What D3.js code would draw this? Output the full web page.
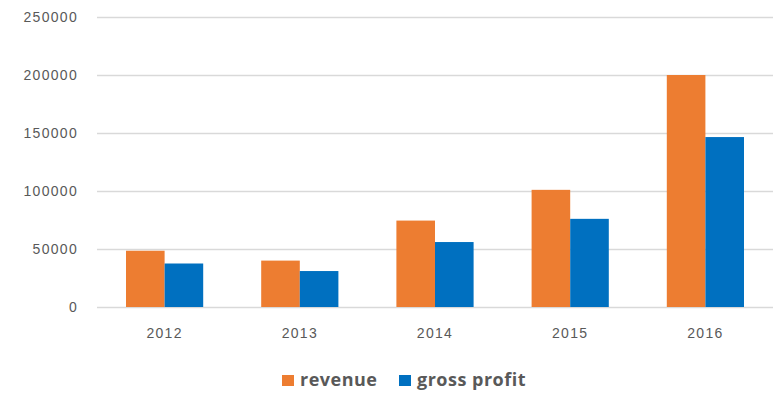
<!DOCTYPE html>
<html>
<head>
<meta charset="utf-8">
<script src="https://cdn.jsdelivr.net/npm/d3@7"></script>
<style>
  body { margin: 0; background: #fff; }
  svg { display: block; font-family: "Open Sans", "DejaVu Sans", sans-serif; }
</style>
</head>
<body>
<svg></svg>
<script>
let years = ["2012", "2013", "2014", "2015", "2016"];
let revenue = [48500, 40000, 74500, 101000, 200000];
let grossProfit = [37500, 31000, 56000, 76000, 146500];
let seriesNames = ["revenue", "gross profit"];
let seriesColors = ["#ED7D31", "#0070C0"];
let yTicks = [0, 50000, 100000, 150000, 200000, 250000];

let width = 774;
let height = 393;
let plotLeft = 97;
let plotRight = 773;
let plotTop = 17;
let plotBottom = 307;

let svg = d3.select("svg")
    .attr("width", width)
    .attr("height", height);

let rows = years.map((y, i) => ({ year: y, values: [revenue[i], grossProfit[i]] }));

let xScale = d3.scaleBand()
    .domain(years)
    .range([plotLeft, plotRight])
    .paddingInner(0)
    .paddingOuter(0);

let xInner = d3.scaleBand()
    .domain(seriesNames)
    .range([29, xScale.bandwidth() - 29]);

let yScale = d3.scaleLinear()
    .domain([0, 250000])
    .range([plotBottom, plotTop]);

// gridlines + y labels
let yAxis = svg.append("g")
    .attr("transform", "translate(" + plotLeft + ",0)")
    .call(d3.axisLeft(yScale).tickValues(yTicks).tickSize(-(plotRight - plotLeft)).tickPadding(19).tickFormat(d3.format("d")));
yAxis.select(".domain").remove();
yAxis.selectAll(".tick line").attr("stroke", "#D9D9D9").attr("stroke-width", 1.3);
yAxis.selectAll(".tick text")
    .attr("fill", "#595959")
    .style("font-size", "14px")
    .style("letter-spacing", "1.3px");

// bars
let groups = svg.selectAll(".year")
    .data(rows)
    .enter()
    .append("g")
    .attr("class", "year")
    .attr("transform", (d) => "translate(" + xScale(d.year) + ",0)");

groups.selectAll("rect")
    .data((d) => d.values.map((v, i) => ({ name: seriesNames[i], value: v, color: seriesColors[i] })))
    .enter()
    .append("rect")
    .attr("x", (d) => xInner(d.name))
    .attr("width", xInner.bandwidth())
    .attr("y", (d) => yScale(d.value))
    .attr("height", (d) => plotBottom - yScale(d.value))
    .attr("fill", (d) => d.color);

// x labels
let xAxis = svg.append("g")
    .attr("transform", "translate(0," + plotBottom + ")")
    .call(d3.axisBottom(xScale).tickSize(0).tickPadding(21));
xAxis.select(".domain").remove();
xAxis.selectAll(".tick text")
    .attr("fill", "#595959")
    .style("font-size", "14px")
    .style("letter-spacing", "1.3px");

// legend
let legendX = [282, 399];
let legend = svg.selectAll(".legend")
    .data(seriesNames)
    .enter()
    .append("g")
    .attr("class", "legend")
    .attr("transform", (d, i) => "translate(" + legendX[i] + ",375)");

legend.append("rect")
    .attr("width", 12)
    .attr("height", 11)
    .attr("fill", (d, i) => seriesColors[i]);

legend.append("text")
    .attr("x", 18)
    .attr("y", 11)
    .attr("fill", "#595959")
    .style("font-size", "18px")
    .style("font-weight", "bold")
    .style("letter-spacing", "0.5px")
    .text((d) => d);
</script>
</body>
</html>
